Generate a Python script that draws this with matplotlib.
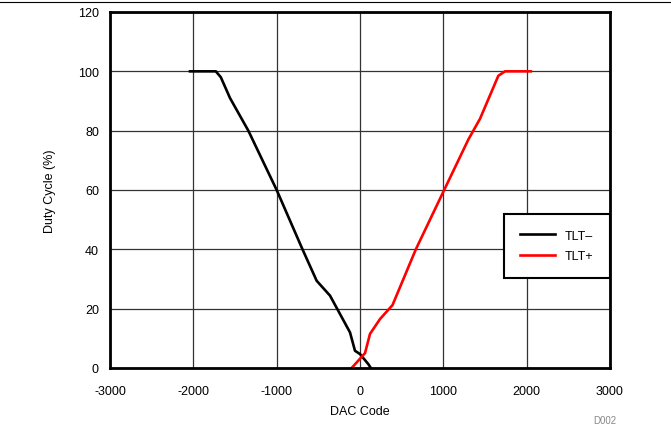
import matplotlib
matplotlib.use("Agg")
import matplotlib.pyplot as plt
from matplotlib.lines import Line2D

plt.rcParams['font.family'] = ['Liberation Sans', 'DejaVu Sans']
plt.rcParams['axes.unicode_minus'] = False

# Data
tlt_minus_x = [-2040, -1730, -1670, -1560, -1340, -1000, -690, -520, -360, -120, -60, 0, 100, 130]
tlt_minus_y = [100, 100, 98, 91, 80, 60, 40, 29.4, 24.4, 12, 5.8, 4.7, 1.3, 0]
tlt_plus_x = [-100, 60, 120, 240, 390, 670, 1010, 1300, 1440, 1660, 1740, 2050]
tlt_plus_y = [0, 5, 11.5, 16.5, 21.2, 40, 60, 77, 84, 98.5, 100, 100]
x_ticks = [-3000, -2000, -1000, 0, 1000, 2000, 3000]
y_ticks = [0, 20, 40, 60, 80, 100, 120]

W, H = 671, 427
fig = plt.figure(figsize=(W / 100, H / 100), dpi=100)
ax = fig.add_axes([110 / W, 1 - 369 / H, 500 / W, 356 / H])

ax.plot(tlt_minus_x, tlt_minus_y, color='black', lw=1.9, label='TLT\u2013', solid_joinstyle='round')
ax.plot(tlt_plus_x, tlt_plus_y, color='#ff0000', lw=1.9, label='TLT+', solid_joinstyle='round')

ax.set_xlim(-3000, 3000)
ax.set_ylim(0, 120)
ax.set_xticks(x_ticks)
ax.set_yticks(y_ticks)
ax.grid(True, color='#333333', lw=0.9)
ax.set_axisbelow(True)
ax.tick_params(length=0, labelsize=9)
ax.tick_params(axis='x', pad=12)
ax.tick_params(axis='y', pad=8)
for s in ax.spines.values():
    s.set_linewidth(2)
    s.set_color('black')

ax.set_xlabel('DAC Code', fontsize=9, labelpad=6)
ax.set_ylabel('Duty Cycle (%)', fontsize=9, labelpad=16)

leg = ax.legend(loc='center right', bbox_to_anchor=(1.0, 0.343), fontsize=9,
                frameon=True, fancybox=False, edgecolor='black', framealpha=1,
                handlelength=2.8, handletextpad=0.8, borderpad=1.3, labelspacing=0.65,
                borderaxespad=0)
leg.get_frame().set_linewidth(1.5)

fig.add_artist(Line2D([0, 1], [1 - 3.3 / H, 1 - 3.3 / H], color='black', lw=0.8,
                      transform=fig.transFigure))
fig.text(605 / W, 1 - 421 / H, 'D002', fontsize=7, color='#888888', ha='center', va='center')

fig.savefig('out.png', dpi=100)
